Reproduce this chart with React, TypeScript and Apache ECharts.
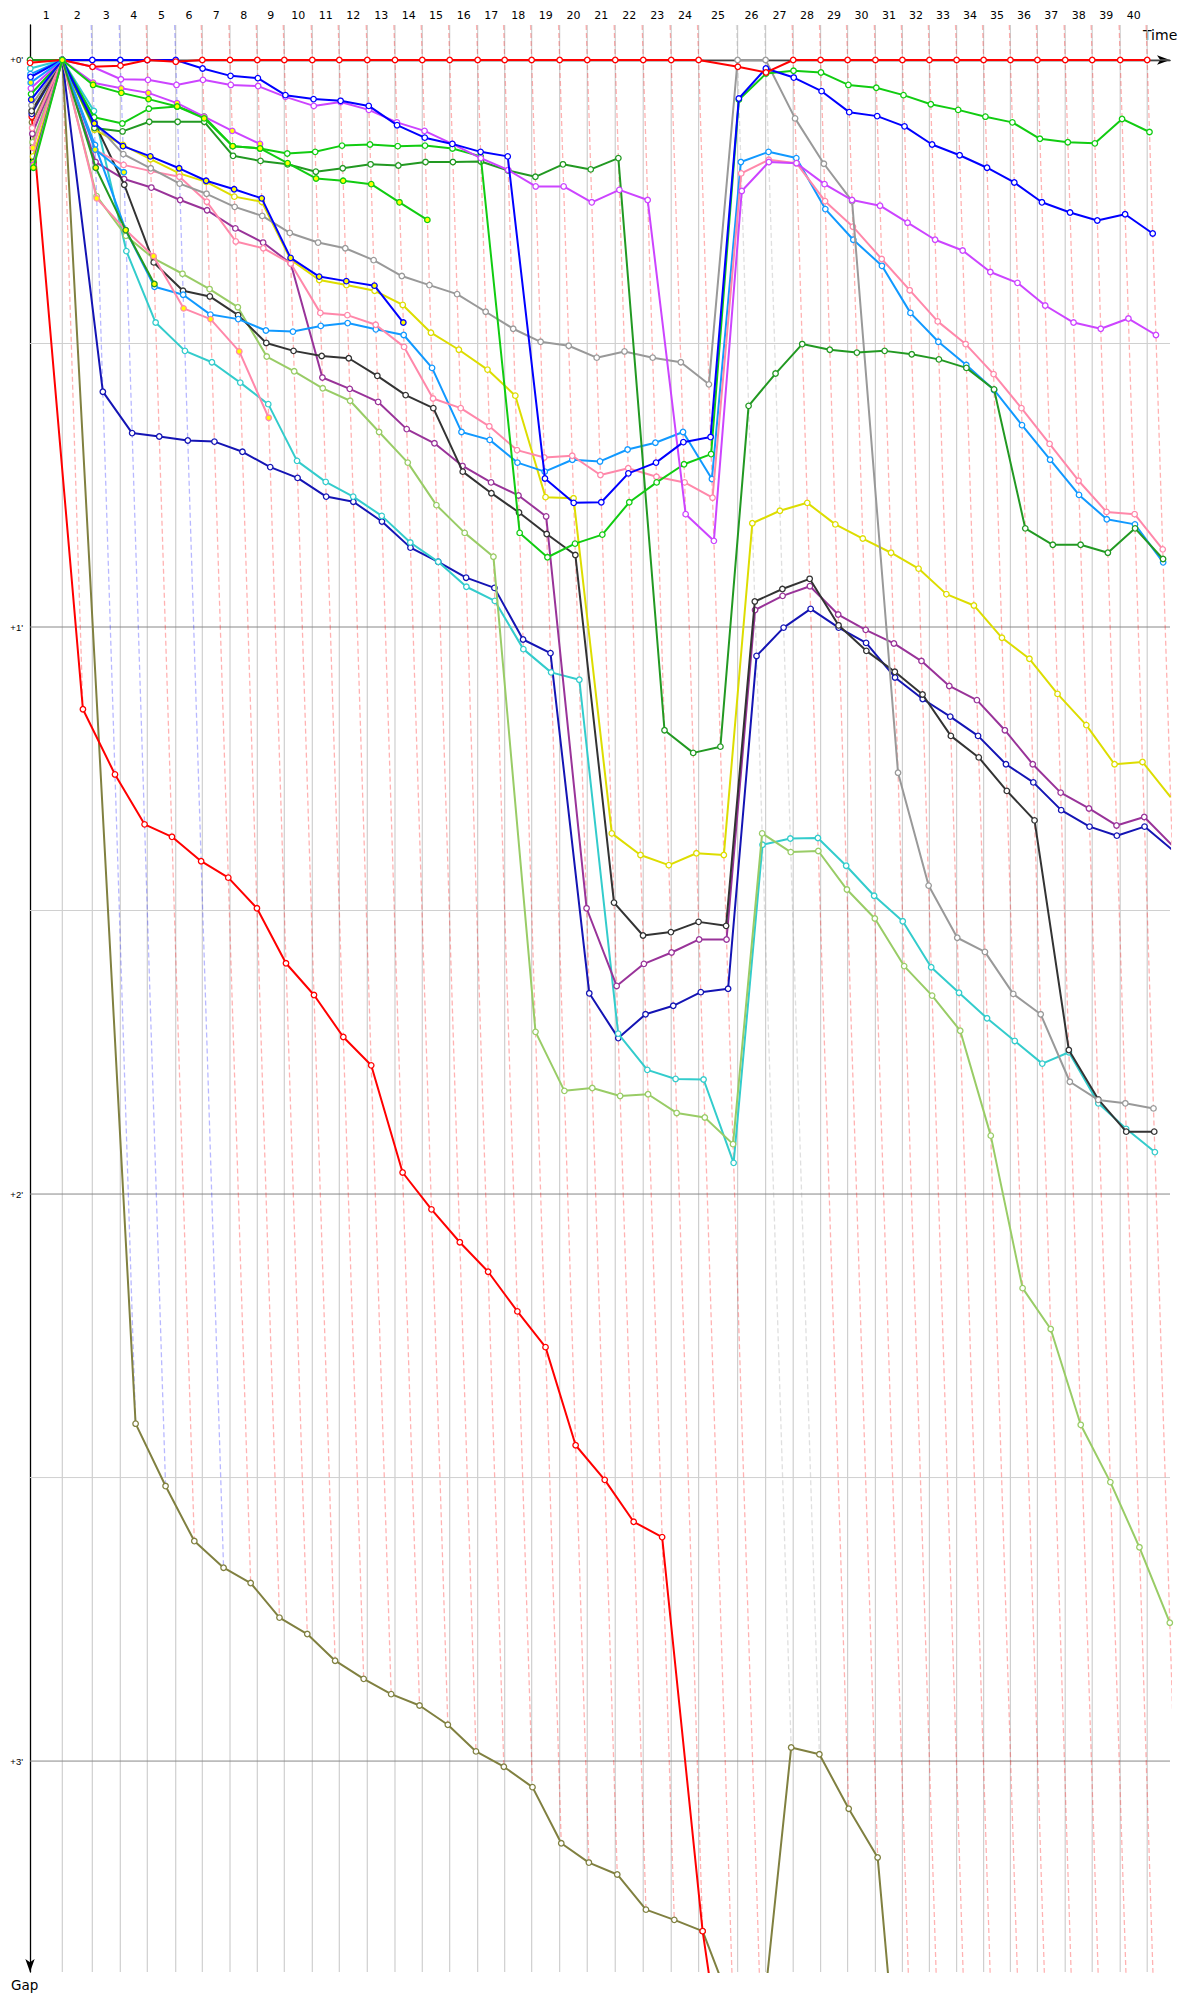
import { useEffect, useRef } from "react";
import * as echarts from "echarts";

// ---------- DATA ----------
const lapLabels = ["1","2","3","4","5","6","7","8","9","10","11","12","13","14","15","16","17","18","19","20","21","22","23","24","25","26","27","28","29","30","31","32","33","34","35","36","37","38","39","40"];

// leader lap times (seconds), lap 1..40
const leaderLapSeconds = [107.7, 100.0, 93.3, 90.0, 94.7, 88.7, 92.3, 91.0, 90.0, 93.3, 90.0, 93.3, 92.3, 91.0, 91.3, 93.3, 90.0, 90.0, 93.3, 92.0, 93.3, 93.3, 93.3, 91.3, 130.0, 93.3, 92.0, 91.3, 90.0, 92.7, 90.0, 90.0, 90.7, 90.0, 89.3, 90.0, 92.7, 90.0, 93.3, 90.0];

const gapTicks = [0, 1, 2, 3];
const halfTicks = [0.5, 1.5, 2.5];

// gaps to leader in minutes, index = lap (0 = start)
const gapsRed = [0.005, 0, 0.012, 0.01, 0, 0.003, 0, 0, 0, 0, 0, 0, 0, 0, 0, 0, 0, 0, 0, 0, 0, 0, 0, 0, 0, 0.012, 0.022, 0, 0, 0, 0, 0, 0, 0, 0, 0, 0, 0, 0, 0, 0];
const gapsBlue = [0.03, 0, 0, 0, 0, 0, 0.015, 0.028, 0.032, 0.062, 0.069, 0.072, 0.081, 0.115, 0.137, 0.148, 0.162, 0.17, 0.738, 0.781, 0.78, 0.729, 0.71, 0.674, 0.665, 0.068, 0.015, 0.031, 0.055, 0.092, 0.099, 0.117, 0.149, 0.168, 0.19, 0.216, 0.251, 0.269, 0.283, 0.272, 0.306];
const gapsViolet = [0.05, 0, 0.012, 0.034, 0.035, 0.044, 0.035, 0.044, 0.046, 0.065, 0.081, 0.074, 0.088, 0.11, 0.125, 0.148, 0.173, 0.194, 0.223, 0.223, 0.251, 0.229, 0.247, 0.801, 0.848, 0.231, 0.18, 0.182, 0.219, 0.247, 0.257, 0.287, 0.317, 0.336, 0.374, 0.393, 0.433, 0.463, 0.474, 0.456, 0.485];
const gapsGreen = [0.06, 0, 0.101, 0.112, 0.086, 0.082, 0.1, 0.152, 0.156, 0.165, 0.162, 0.151, 0.149, 0.152, 0.151, 0.156, 0.17, 0.834, 0.877, 0.853, 0.837, 0.78, 0.745, 0.713, 0.695, 0.07, 0.024, 0.019, 0.022, 0.044, 0.049, 0.062, 0.078, 0.088, 0.1, 0.11, 0.139, 0.145, 0.147, 0.104, 0.127];
const gapsForest = [0.0, 0, 0.12, 0.126, 0.109, 0.109, 0.109, 0.169, 0.178, 0.184, 0.197, 0.191, 0.184, 0.186, 0.18, 0.18, 0.179, 0.195, 0.206, 0.184, 0.193, 0.173, 1.182, 1.222, 1.211, 0.61, 0.553, 0.501, 0.511, 0.516, 0.513, 0.519, 0.528, 0.543, 0.581, 0.826, 0.855, 0.855, 0.869, 0.826, 0.88];
const gapsGrey = [0.08, 0, 0.11, 0.166, 0.191, 0.218, 0.236, 0.259, 0.275, 0.305, 0.322, 0.332, 0.353, 0.381, 0.397, 0.413, 0.444, 0.474, 0.497, 0.504, 0.525, 0.514, 0.525, 0.533, 0.572, 0, 0, 0.103, 0.183, 0.249, 1.257, 1.456, 1.548, 1.573, 1.647, 1.683, 1.802, 1.834, 1.84, 1.849, null];
const gapsYellow = [0.17, 0, 0.123, 0.15, 0.175, 0.2, 0.215, 0.241, 0.25, 0.352, 0.388, 0.397, 0.407, 0.432, 0.481, 0.511, 0.546, 0.592, 0.771, 0.773, 1.364, 1.402, 1.42, 1.399, 1.402, 0.817, 0.795, 0.781, 0.819, 0.844, 0.869, 0.897, 0.942, 0.962, 1.019, 1.056, 1.118, 1.173, 1.242, 1.238, 1.3];
const gapsPink = [0.12, 0, 0.159, 0.185, 0.196, 0.206, 0.25, 0.32, 0.332, 0.359, 0.446, 0.45, 0.467, 0.506, 0.597, 0.614, 0.646, 0.688, 0.701, 0.698, 0.732, 0.72, 0.735, 0.745, 0.772, 0.2, 0.176, 0.182, 0.249, 0.294, 0.351, 0.406, 0.461, 0.501, 0.554, 0.614, 0.677, 0.742, 0.797, 0.801, 0.863];
const gapsSky = [0.025, 0, 0.15, 0.3, 0.4, 0.414, 0.449, 0.457, 0.477, 0.479, 0.469, 0.464, 0.475, 0.485, 0.543, 0.656, 0.67, 0.71, 0.726, 0.705, 0.708, 0.687, 0.675, 0.656, 0.739, 0.18, 0.162, 0.173, 0.263, 0.317, 0.363, 0.446, 0.497, 0.538, 0.582, 0.644, 0.705, 0.767, 0.81, 0.819, 0.886];
const gapsBlack = [0.09, 0, 0.11, 0.22, 0.357, 0.407, 0.417, 0.45, 0.499, 0.513, 0.522, 0.526, 0.557, 0.591, 0.614, 0.726, 0.764, 0.798, 0.836, 0.873, 1.486, 1.544, 1.538, 1.52, 1.527, 0.955, 0.933, 0.915, 0.997, 1.042, 1.079, 1.119, 1.192, 1.23, 1.289, 1.341, 1.746, 1.833, 1.89, 1.89, null];
const gapsPurple = [0.13, 0, 0.18, 0.21, 0.225, 0.247, 0.265, 0.297, 0.322, 0.359, 0.56, 0.58, 0.603, 0.651, 0.676, 0.716, 0.745, 0.768, 0.805, 1.496, 1.633, 1.594, 1.574, 1.551, 1.551, 0.97, 0.945, 0.928, 0.978, 1.005, 1.029, 1.06, 1.104, 1.129, 1.182, 1.242, 1.292, 1.32, 1.35, 1.335, 1.385];
const gapsTurquoise = [0.015, 0, 0.09, 0.337, 0.463, 0.513, 0.533, 0.569, 0.607, 0.707, 0.744, 0.77, 0.804, 0.851, 0.885, 0.929, 0.954, 1.039, 1.08, 1.093, 1.717, 1.781, 1.797, 1.798, 1.945, 1.384, 1.373, 1.372, 1.421, 1.474, 1.519, 1.6, 1.645, 1.69, 1.73, 1.77, 1.75, 1.84, 1.885, 1.926, null];
const gapsLime = [0.145, 0, 0.24, 0.31, 0.35, 0.377, 0.404, 0.436, 0.523, 0.549, 0.579, 0.601, 0.656, 0.71, 0.785, 0.834, 0.876, 1.714, 1.818, 1.813, 1.827, 1.824, 1.857, 1.865, 1.912, 1.364, 1.397, 1.395, 1.463, 1.514, 1.598, 1.65, 1.712, 1.897, 2.166, 2.238, 2.407, 2.508, 2.623, 2.756, null];
// laps 29+ of this car run below the visible gap range
const gapsOlive = [0.11, 0, 2.405, 2.515, 2.612, 2.659, 2.686, 2.747, 2.776, 2.823, 2.855, 2.882, 2.902, 2.936, 2.983, 3.01, 3.046, 3.145, 3.179, 3.2, 3.262, 3.28, 3.3, 3.44, 3.48, 2.976, 2.988, 3.084, 3.17, 4.0, 4.02, 4.07, 4.1, 4.16, 4.2, 4.23, 4.3, 4.34, 4.38, 4.41];
const gapsNavy = [0.095, 0, 0.585, 0.658, 0.664, 0.671, 0.673, 0.691, 0.718, 0.737, 0.77, 0.779, 0.814, 0.86, 0.885, 0.913, 0.931, 1.022, 1.046, 1.646, 1.725, 1.683, 1.668, 1.644, 1.638, 1.051, 1.001, 0.968, 1.001, 1.028, 1.089, 1.127, 1.158, 1.192, 1.242, 1.274, 1.323, 1.352, 1.368, 1.352, 1.393];
const gapsRed2 = [0.1, 1.145, 1.26, 1.348, 1.37, 1.413, 1.442, 1.496, 1.593, 1.649, 1.723, 1.773, 1.962, 2.027, 2.085, 2.137, 2.207, 2.27, 2.443, 2.504, 2.578, 2.605, 3.3, 3.73];
const gapsBlue2 = [0.07, 0, 0.112, 0.152, 0.17, 0.191, 0.213, 0.228, 0.244, 0.349, 0.382, 0.39, 0.398, 0.463];
const gapsGreen2 = [0.19, 0, 0.044, 0.058, 0.069, 0.082, 0.103, 0.152, 0.156, 0.182, 0.209, 0.213, 0.219, 0.251, 0.282];
const gapsViolet2 = [0.185, 0, 0.04, 0.05, 0.058, 0.076, 0.1, 0.125, 0.148];
const gapsForest2 = [0.18, 0, 0.19, 0.3, 0.395];
const gapsSky2 = [0.04, 0, 0.158, 0.198];
const gapsPink2 = [0.155, 0, 0.244, 0.3, 0.346, 0.438, 0.457, 0.514, 0.631];

type Def = { name: string; color: string; gaps: (number | null)[]; fill?: string };

// order used for leader detection (ties -> first)
const defs: Def[] = [
  { name: "Red", color: "#ff0000", gaps: gapsRed },
  { name: "Blue", color: "#0000ff", gaps: gapsBlue },
  { name: "Grey", color: "#999999", gaps: gapsGrey },
  { name: "Green", color: "#11cc11", gaps: gapsGreen },
  { name: "Violet", color: "#cc44ff", gaps: gapsViolet },
  { name: "Forest", color: "#229922", gaps: gapsForest },
  { name: "Yellow", color: "#dddd00", gaps: gapsYellow },
  { name: "Pink", color: "#ff88aa", gaps: gapsPink },
  { name: "Sky", color: "#1199ff", gaps: gapsSky },
  { name: "Black", color: "#333333", gaps: gapsBlack },
  { name: "Purple", color: "#993399", gaps: gapsPurple },
  { name: "Turquoise", color: "#33cccc", gaps: gapsTurquoise },
  { name: "Lime", color: "#99cc66", gaps: gapsLime },
  { name: "Olive", color: "#808040", gaps: gapsOlive },
  { name: "Navy", color: "#1414b4", gaps: gapsNavy },
  { name: "Red2", color: "#ff0000", gaps: gapsRed2 },
  { name: "Blue2", color: "#0000ff", gaps: gapsBlue2, fill: "#ffff00" },
  { name: "Violet2", color: "#cc44ff", gaps: gapsViolet2, fill: "#ffff00" },
  { name: "Forest2", color: "#229922", gaps: gapsForest2, fill: "#ffff00" },
  { name: "Sky2", color: "#1199ff", gaps: gapsSky2, fill: "#ffff00" },
  { name: "Pink2", color: "#ff88aa", gaps: gapsPink2, fill: "#ffff00" },
  { name: "Green2", color: "#11cc11", gaps: gapsGreen2, fill: "#ffff00" },
];

// drawing order (bottom to top)
const drawOrder = ["Olive", "Red2", "Navy", "Turquoise", "Lime", "Purple", "Black", "Yellow", "Sky", "Pink", "Grey", "Forest", "Green", "Violet", "Blue", "Red", "Blue2", "Pink2", "Sky2", "Forest2", "Violet2", "Green2"];

const Y_MIN = -0.0617;
const Y_MAX = 3.372;
const X_MAX = 63.333;

const dashColor: Record<string, string> = {
  "#ff0000": "rgba(255,0,0,0.3)",
  "#0000ff": "rgba(0,0,255,0.28)",
  "#999999": "rgba(150,150,150,0.3)",
};

export default function App() {
  const ref = useRef<HTMLDivElement>(null);
  useEffect(() => {
    const chart = echarts.init(ref.current as HTMLDivElement, null, { renderer: "svg" });
    const cum: number[] = [0];
    leaderLapSeconds.forEach((s, i) => cum.push(cum[i] + s / 60));
    const mids = lapLabels.map((_, i) => (cum[i] + cum[i + 1]) / 2);

    const series: any[] = [];
    // horizontal guide lines
    halfTicks.forEach((v) => {
      series.push({ type: "line", silent: true, symbol: "none", z: 1, data: [[0, v], [X_MAX, v]], lineStyle: { color: "#d0d0d0", width: 1 } });
    });
    // vertical lap lines
    for (let k = 1; k <= lapLabels.length; k++) {
      series.push({ type: "line", silent: true, symbol: "none", z: 1, data: [[cum[k], Y_MIN], [cum[k], Y_MAX]], lineStyle: { color: "#cfcfcf", width: 1.2 } });
    }
    gapTicks.forEach((v) => {
      series.push({ type: "line", silent: true, symbol: "none", z: 2, data: [[0, v], [X_MAX, v]], lineStyle: { color: "#888888", width: 1 } });
    });
    // dashed lap lines (lap-k positions of all drivers)
    for (let k = 1; k <= lapLabels.length; k++) {
      let leader: Def | null = null;
      let lmin = Infinity;
      let gmax = -Infinity;
      defs.forEach((d) => {
        const g = d.gaps[k];
        if (g === null || g === undefined) return;
        if (g < lmin) { lmin = g; leader = d; }
        if (g > gmax) gmax = g;
      });
      const col = leader ? dashColor[(leader as Def).color] || "rgba(255,0,0,0.3)" : "rgba(255,0,0,0.3)";
      series.push({
        type: "line", silent: true, symbol: "none", z: 2,
        data: [[cum[k] + Y_MIN, Y_MIN], [cum[k] + gmax, gmax]],
        lineStyle: { color: col, width: 1.3, type: [5, 3] },
      });
    }
    // drivers
    drawOrder.forEach((nm, i) => {
      const d = defs.find((x) => x.name === nm) as Def;
      const data: number[][] = [];
      d.gaps.forEach((g, lap) => {
        if (g === null || g === undefined) return;
        data.push([cum[lap] + g, g]);
      });
      series.push({
        type: "line", name: d.name, silent: true, z: 3 + i * 0.01,
        data, symbol: "circle", symbolSize: 5.5, showSymbol: true, showAllSymbol: true,
        lineStyle: { color: d.color, width: 2 },
        itemStyle: { color: d.fill || "#ffffff", borderColor: d.color, borderWidth: 1.3 },
      });
    });

    const option: any = {
      animation: false,
      backgroundColor: "#ffffff",
      grid: { left: 30, top: 25, right: 30, bottom: 28 },
      xAxis: {
        type: "value", position: "top", min: 0, max: X_MAX,
        axisLine: { show: true, lineStyle: { color: "#000", width: 1.3 }, symbol: ["none", "arrow"], symbolSize: [7, 13] },
        axisTick: { show: false },
        splitLine: { show: false },
        axisLabel: {
          customValues: mids, margin: 4, color: "#000", fontSize: 11, fontFamily: "DejaVu Sans",
          formatter: (v: number) => {
            let best = 0;
            mids.forEach((m, i) => { if (Math.abs(m - v) < Math.abs(mids[best] - v)) best = i; });
            return lapLabels[best];
          },
        },
      },
      yAxis: {
        type: "value", inverse: true, min: Y_MIN, max: Y_MAX,
        axisLine: { show: true, lineStyle: { color: "#000", width: 1.3 }, symbol: ["arrow", "none"], symbolSize: [7, 13] },
        axisTick: { show: false },
        splitLine: { show: false },
        axisLabel: {
          customValues: gapTicks, margin: 7, color: "#000", fontSize: 9.5, fontFamily: "Liberation Sans",
          formatter: (v: number) => "+" + Math.round(v) + "'",
        },
      },
      graphic: [
        { type: "text", left: 1143, top: 28, style: { text: "Time", fontSize: 14, fontFamily: "DejaVu Sans", fill: "#000" } },
        { type: "text", left: 11, top: 1978, style: { text: "Gap", fontSize: 13.5, fontFamily: "DejaVu Sans", fill: "#000" } },
      ],
      series,
    };
    chart.setOption(option);
    return () => chart.dispose();
  }, []);
  return <div ref={ref} style={{ position: "absolute", left: 0, top: 0, width: 1200, height: 2000, background: "#fff" }} />;
}
